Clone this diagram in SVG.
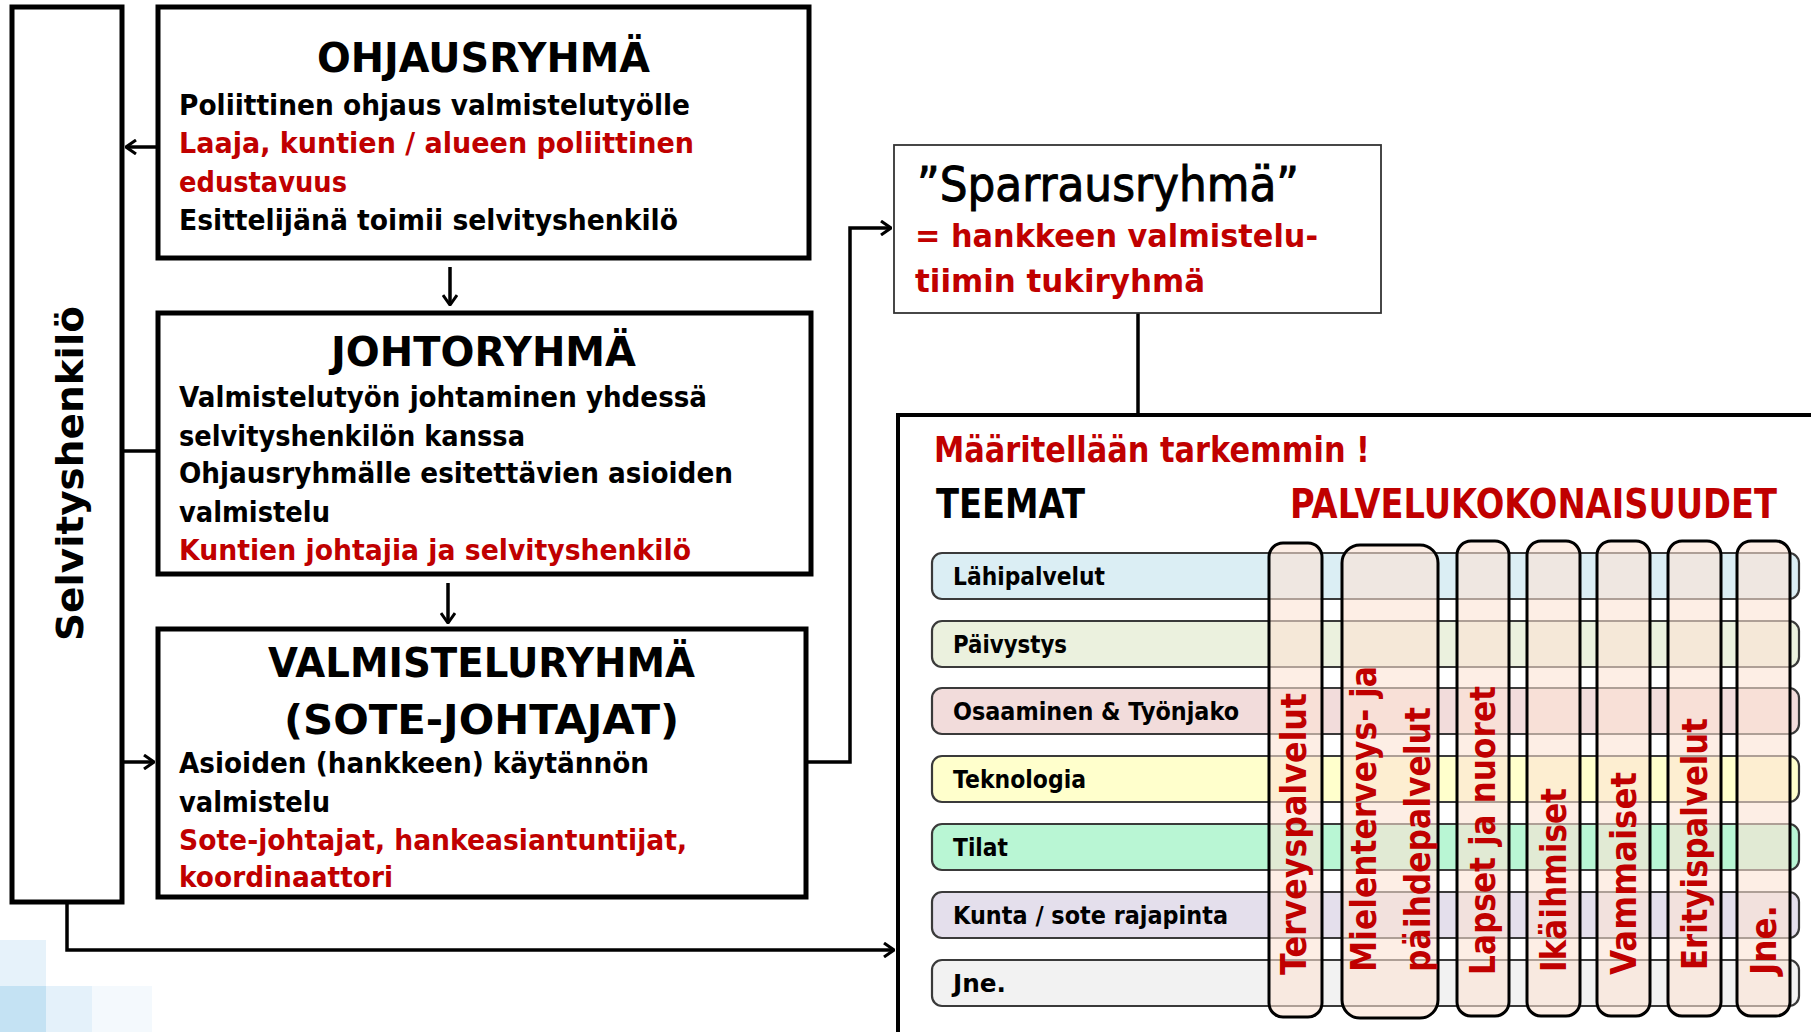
<svg xmlns="http://www.w3.org/2000/svg" width="1811" height="1032" viewBox="0 0 1811 1032">
<defs>
<style>
text{font-family:"DejaVu Sans","Liberation Sans",sans-serif;font-weight:bold;fill:#000}
.red{fill:#C00000}
.title{font-size:41px}
.body{font-size:29px}
.box{fill:#fff;stroke:#000;stroke-width:5}
.conn{fill:none;stroke:#000;stroke-width:3.5}
.row{stroke:#3a3a3a;stroke-width:2.2}
.rowlbl{font-size:25px}
.col{fill:#FBE3D3;fill-opacity:0.6;stroke:#000;stroke-width:3}
.collbl{font-size:36px;fill:#C00000}
</style>
<marker id="arr" viewBox="0 0 12 16" refX="11" refY="8" markerWidth="12" markerHeight="16" markerUnits="userSpaceOnUse" orient="auto">
<path d="M1,1 L11,8 L1,15" fill="none" stroke="#000" stroke-width="3"/>
</marker>
</defs>
<rect width="1811" height="1032" fill="#fff"/>
<g id="decor">
<rect x="0" y="940" width="46" height="46" fill="#E6F2FA"/>
<rect x="0" y="986" width="46" height="46" fill="#C4E2F3"/>
<rect x="46" y="986" width="46" height="46" fill="#E4F1FA"/>
<rect x="92" y="986" width="60" height="46" fill="#F4F9FD"/>
</g>
<g id="connectors">
<path class="conn" d="M158 147 H126" marker-end="url(#arr)"/>
<path class="conn" d="M450 267 V305" marker-end="url(#arr)"/>
<path class="conn" d="M122 451 H158" stroke-width="2.5"/>
<path class="conn" d="M448 583 V623" marker-end="url(#arr)"/>
<path class="conn" d="M122 762 H154" marker-end="url(#arr)"/>
<path class="conn" d="M807 762 H850 V228 H891" marker-end="url(#arr)"/>
<path class="conn" d="M1138 313 V415" stroke-width="2"/>
<path class="conn" d="M67 902 V950 H894" marker-end="url(#arr)"/>
</g>
<g id="selvityshenkilo">
<rect class="box" x="12" y="7" width="110" height="895"/>
<text transform="translate(83,641) rotate(-90)" font-size="38" textLength="335" lengthAdjust="spacingAndGlyphs">Selvityshenkilö</text>
</g>
<g id="ohjausryhma">
<rect class="box" x="158" y="7" width="651" height="251"/>
<text class="title" x="317" y="72" textLength="333" lengthAdjust="spacingAndGlyphs">OHJAUSRYHMÄ</text>
<text class="body" x="179" y="115" textLength="511" lengthAdjust="spacingAndGlyphs">Poliittinen ohjaus valmistelutyölle</text>
<text class="body red" x="179" y="153" textLength="515" lengthAdjust="spacingAndGlyphs">Laaja, kuntien / alueen poliittinen</text>
<text class="body red" x="179" y="192" textLength="168" lengthAdjust="spacingAndGlyphs">edustavuus</text>
<text class="body" x="179" y="230" textLength="499" lengthAdjust="spacingAndGlyphs">Esittelijänä toimii selvityshenkilö</text>
</g>
<g id="johtoryhma">
<rect class="box" x="158" y="313" width="653" height="261"/>
<text class="title" x="331" y="366" textLength="305" lengthAdjust="spacingAndGlyphs">JOHTORYHMÄ</text>
<text class="body" x="179" y="407" textLength="528" lengthAdjust="spacingAndGlyphs">Valmistelutyön johtaminen yhdessä</text>
<text class="body" x="179" y="446" textLength="346" lengthAdjust="spacingAndGlyphs">selvityshenkilön kanssa</text>
<text class="body" x="179" y="483" textLength="554" lengthAdjust="spacingAndGlyphs">Ohjausryhmälle esitettävien asioiden</text>
<text class="body" x="179" y="522" textLength="151" lengthAdjust="spacingAndGlyphs">valmistelu</text>
<text class="body red" x="179" y="560" textLength="512" lengthAdjust="spacingAndGlyphs">Kuntien johtajia ja selvityshenkilö</text>
</g>
<g id="valmisteluryhma">
<rect class="box" x="158" y="629" width="648" height="268"/>
<text class="title" x="268" y="677" textLength="427" lengthAdjust="spacingAndGlyphs">VALMISTELURYHMÄ</text>
<text class="title" x="284" y="734" textLength="395" lengthAdjust="spacingAndGlyphs">(SOTE-JOHTAJAT)</text>
<text class="body" x="179" y="773" textLength="470" lengthAdjust="spacingAndGlyphs">Asioiden (hankkeen) käytännön</text>
<text class="body" x="179" y="812" textLength="151" lengthAdjust="spacingAndGlyphs">valmistelu</text>
<text class="body red" x="179" y="850" textLength="508" lengthAdjust="spacingAndGlyphs">Sote-johtajat, hankeasiantuntijat,</text>
<text class="body red" x="179" y="887" textLength="214" lengthAdjust="spacingAndGlyphs">koordinaattori</text>
</g>
<g id="sparrausryhma">
<rect x="894" y="145" width="487" height="168" fill="#fff" stroke="#333" stroke-width="1.8"/>
<text x="917" y="201" font-size="48" style="font-weight:normal" stroke="#000" stroke-width="1" textLength="382" lengthAdjust="spacingAndGlyphs">”Sparrausryhmä”</text>
<text class="red" x="915" y="247" font-size="32" textLength="403" lengthAdjust="spacingAndGlyphs">= hankkeen valmistelu-</text>
<text class="red" x="915" y="292" font-size="32" textLength="290" lengthAdjust="spacingAndGlyphs">tiimin tukiryhmä</text>
</g>
<g id="matriisi">
<path d="M898 1040 V415 H1820" fill="none" stroke="#000" stroke-width="4"/>
<text class="red" x="934" y="462" font-size="36" textLength="436" lengthAdjust="spacingAndGlyphs">Määritellään tarkemmin !</text>
<text x="936" y="518" font-size="40" textLength="149" lengthAdjust="spacingAndGlyphs">TEEMAT</text>
<text class="red" x="1290" y="518" font-size="40" textLength="487" lengthAdjust="spacingAndGlyphs">PALVELUKOKONAISUUDET</text>
</g>
<g id="teemat">
<rect class="row" x="932" y="553" width="867" height="46" rx="10" fill="#DBEEF4"/>
<rect class="row" x="932" y="621" width="867" height="46" rx="10" fill="#EBF1DE"/>
<rect class="row" x="932" y="688" width="867" height="46" rx="10" fill="#F2DCDB"/>
<rect class="row" x="932" y="756" width="867" height="46" rx="10" fill="#FFFFCC"/>
<rect class="row" x="932" y="824" width="867" height="46" rx="10" fill="#B9F6D4"/>
<rect class="row" x="932" y="892" width="867" height="46" rx="10" fill="#E4DFEC"/>
<rect class="row" x="932" y="960" width="867" height="46" rx="10" fill="#F2F2F2"/>
<text class="rowlbl" x="953" y="585" textLength="152" lengthAdjust="spacingAndGlyphs">Lähipalvelut</text>
<text class="rowlbl" x="953" y="653" textLength="114" lengthAdjust="spacingAndGlyphs">Päivystys</text>
<text class="rowlbl" x="953" y="720" textLength="286" lengthAdjust="spacingAndGlyphs">Osaaminen &amp; Työnjako</text>
<text class="rowlbl" x="953" y="788" textLength="133" lengthAdjust="spacingAndGlyphs">Teknologia</text>
<text class="rowlbl" x="953" y="856" textLength="55" lengthAdjust="spacingAndGlyphs">Tilat</text>
<text class="rowlbl" x="953" y="924" textLength="275" lengthAdjust="spacingAndGlyphs">Kunta / sote rajapinta</text>
<text class="rowlbl" x="953" y="992" textLength="53" lengthAdjust="spacingAndGlyphs">Jne.</text>
</g>
<g id="palvelukokonaisuudet">
<rect class="col" x="1269" y="543" width="53" height="474" rx="14"/>
<rect class="col" x="1342" y="545" width="96" height="473" rx="18"/>
<rect class="col" x="1457" y="541" width="52" height="475" rx="14"/>
<rect class="col" x="1527" y="541" width="53" height="475" rx="14"/>
<rect class="col" x="1597" y="541" width="53" height="475" rx="14"/>
<rect class="col" x="1668" y="541" width="53" height="475" rx="14"/>
<rect class="col" x="1737" y="541" width="53" height="475" rx="14"/>
<text class="collbl" transform="translate(1306,975) rotate(-90)" textLength="282" lengthAdjust="spacingAndGlyphs">Terveyspalvelut</text>
<text class="collbl" transform="translate(1376,972) rotate(-90)" textLength="306" lengthAdjust="spacingAndGlyphs">Mielenterveys- ja</text>
<text class="collbl" transform="translate(1430,972) rotate(-90)" textLength="265" lengthAdjust="spacingAndGlyphs">päihdepalvelut</text>
<text class="collbl" transform="translate(1495,975) rotate(-90)" textLength="289" lengthAdjust="spacingAndGlyphs">Lapset ja nuoret</text>
<text class="collbl" transform="translate(1566,972) rotate(-90)" textLength="184" lengthAdjust="spacingAndGlyphs">Ikäihmiset</text>
<text class="collbl" transform="translate(1636,975) rotate(-90)" textLength="203" lengthAdjust="spacingAndGlyphs">Vammaiset</text>
<text class="collbl" transform="translate(1707,970) rotate(-90)" textLength="252" lengthAdjust="spacingAndGlyphs">Erityispalvelut</text>
<text class="collbl" transform="translate(1776,975) rotate(-90)" textLength="70" lengthAdjust="spacingAndGlyphs">Jne.</text>
</g>
</svg>
